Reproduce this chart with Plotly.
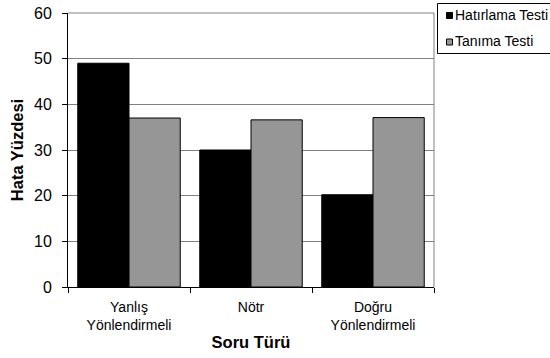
import plotly.graph_objects as go

categories = ["Yanlış<br>Yönlendirmeli", "Nötr", "Doğru<br>Yönlendirmeli"]
hatirlama = [49.0, 30.0, 20.2]
tanima = [37.0, 36.6, 37.1]
series_names = ["Hatırlama Testi", "Tanıma Testi"]
colors = ["#000000", "#969696"]

FONT = "Arial, Liberation Sans, sans-serif"
W, H = 550, 358
L, R, T, B = 68, 116, 13, 71
pw, ph = W - L - R, H - T - B

def px_x(px):
    return (px - L) / pw

def px_y(py):
    return (H - B - py) / ph

fig = go.Figure()
for name, vals, c in zip(series_names, [hatirlama, tanima], colors):
    fig.add_trace(go.Bar(x=categories, y=vals, name=name,
                         marker=dict(color=c, line=dict(color="#000000", width=1)),
                         showlegend=False))

shapes = []
shapes.append(dict(type="line", xref="paper", yref="paper", x0=1, x1=1, y0=0, y1=1,
                   line=dict(color="#808080", width=1)))
shapes.append(dict(type="line", xref="paper", yref="paper", x0=0, x1=1, y0=1, y1=1,
                   line=dict(color="#808080", width=1)))
shapes.append(dict(type="rect", xref="paper", yref="paper",
                   x0=px_x(437.5), x1=px_x(560), y0=px_y(53.5), y1=px_y(3.5),
                   line=dict(color="#000000", width=1), fillcolor="white"))
annotations = []
row_y = [15.5, 42.0]
for i, (name, c) in enumerate(zip(series_names, colors)):
    cy = row_y[i]
    shapes.append(dict(type="rect", xref="paper", yref="paper",
                       x0=px_x(446.5), x1=px_x(452.5), y0=px_y(cy + 3), y1=px_y(cy - 3),
                       line=dict(color="#000000", width=1), fillcolor=c))
    annotations.append(dict(text=name, xref="paper", yref="paper",
                            x=px_x(453.0), y=px_y(cy - 1), xanchor="left", yanchor="middle",
                            showarrow=False, font=dict(family=FONT, size=14, color="#000000")))

fig.update_layout(
    width=W, height=H,
    margin=dict(l=L, r=R, t=T, b=B, pad=0),
    paper_bgcolor="white", plot_bgcolor="white",
    barmode="group", bargap=0.16, bargroupgap=0,
    font=dict(family=FONT, color="#000000"),
    shapes=shapes, annotations=annotations,
    showlegend=False,
)
fig.update_xaxes(
    type="category", showline=True, linecolor="#000000", linewidth=1,
    ticks="outside", tickson="boundaries", ticklen=5, tickcolor="#000000",
    tickfont=dict(size=14, family=FONT), ticklabelstandoff=7,
    title=dict(text="Soru Türü", font=dict(size=16.5, family=FONT, weight="bold"), standoff=4),
    showgrid=False, automargin=False,
)
fig.update_yaxes(
    range=[0, 60], dtick=10, showline=True, linecolor="#000000", linewidth=1,
    ticks="outside", ticklen=5, tickcolor="#000000",
    tickfont=dict(size=16, family=FONT), ticklabelstandoff=7,
    showgrid=True, gridcolor="#808080", gridwidth=1, zeroline=False, automargin=False,
    title=dict(text="Hata Yüzdesi", font=dict(size=16.5, family=FONT, weight="bold"), standoff=6),
)
fig.write_html("out.html")
